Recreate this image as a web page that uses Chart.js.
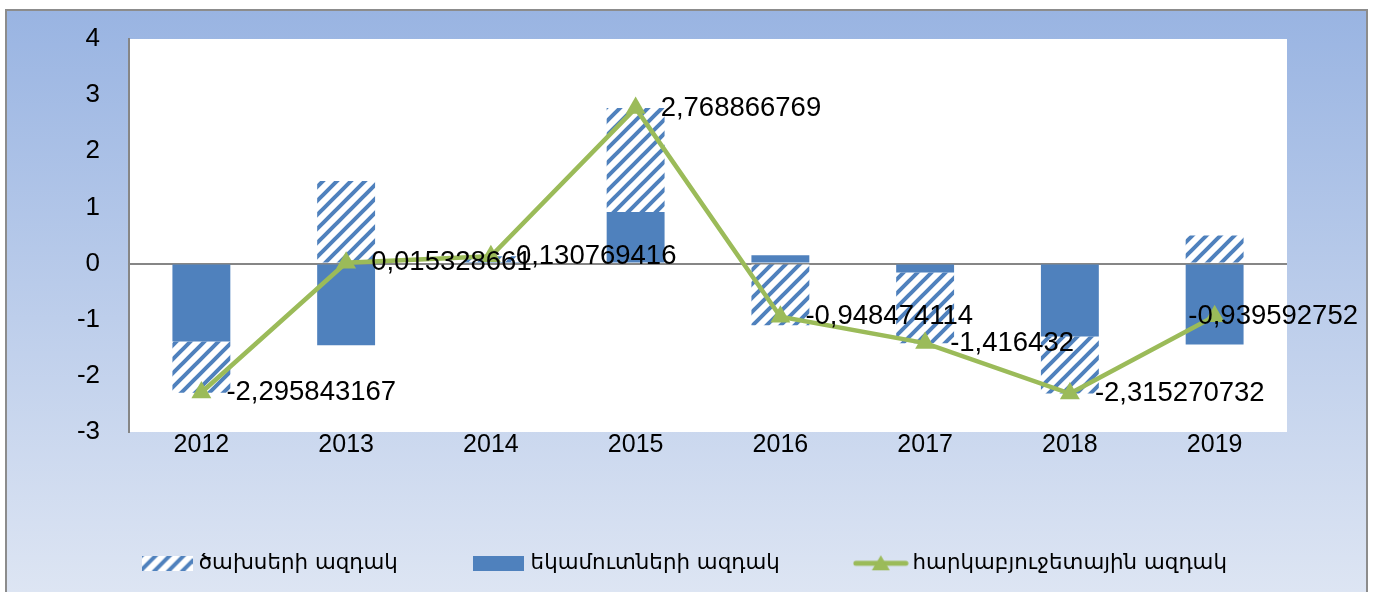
<!DOCTYPE html>
<html>
<head>
<meta charset="utf-8">
<script src="https://cdn.jsdelivr.net/npm/chart.js@4"></script>
<style>
html, body { margin: 0; padding: 0; background: #fff; }
</style>
</head>
<body>
<canvas id="fiscalChart" width="1376" height="592"></canvas>
<script>
const years = ['2012', '2013', '2014', '2015', '2016', '2017', '2018', '2019'];
const spendImpulse = [-0.91, 1.47, 0.10, 1.85, -1.10, -1.26, -1.015, 0.50];
const revenueImpulse = [-1.39, -1.455, 0.03, 0.92, 0.15, -0.16, -1.30, -1.44];
const fiscalImpulse = [-2.295843167, 0.015328661, 0.130769416, 2.768866769, -0.948474114, -1.416432, -2.315270732, -0.939592752];
const seriesNames = ['ծախսերի ազդակ', 'եկամուտների ազդակ', 'հարկաբյուջետային ազդակ'];
const yMin = -3, yMax = 4;

const blue = '#4f81bd';
const green = '#9bbb59';

// diagonal hatch like excel's "wide upward diagonal"
function makeHatch() {
    const s = 14;
    const c = document.createElement('canvas');
    c.width = s; c.height = s;
    const g = c.getContext('2d');
    g.fillStyle = '#fff';
    g.fillRect(0, 0, s, s);
    g.strokeStyle = blue;
    g.lineWidth = 4;
    g.beginPath();
    g.moveTo(-2, s + 2); g.lineTo(s + 2, -2);
    g.moveTo(-2, 2); g.lineTo(2, -2);
    g.moveTo(s - 2, s + 2); g.lineTo(s + 2, s - 2);
    g.stroke();
    return g.createPattern(c, 'repeat');
}
const hatch = makeHatch();

function legendIcon(kind) {
    const c = document.createElement('canvas');
    const g = c.getContext('2d');
    if (kind === 'line') {
        c.width = 56; c.height = 22;
        g.strokeStyle = green;
        g.lineWidth = 5;
        g.lineCap = 'round';
        g.beginPath(); g.moveTo(3, 11); g.lineTo(53, 11); g.stroke();
        g.fillStyle = green;
        g.beginPath(); g.moveTo(28, 3); g.lineTo(37, 18); g.lineTo(19, 18); g.closePath(); g.fill();
    } else {
        c.width = 51; c.height = 15;
        g.fillStyle = kind === 'hatch' ? makeHatch() : blue;
        g.fillRect(0, 0, 51, 15);
    }
    return c;
}
const legendIcons = [legendIcon('hatch'), legendIcon('solid'), legendIcon('line')];

const backdrop = {
    id: 'backdrop',
    beforeDraw(chart) {
        const ctx = chart.ctx;
        const a = chart.chartArea;
        ctx.save();
        const grad = ctx.createLinearGradient(0, 10, 0, 592);
        grad.addColorStop(0, '#99b4e2');
        grad.addColorStop(1, '#dde5f3');
        ctx.fillStyle = grad;
        ctx.fillRect(6, 10, 1361, 600);
        ctx.strokeStyle = '#8c8c8c';
        ctx.lineWidth = 2;
        ctx.strokeRect(6, 10, 1361, 620);
        ctx.fillStyle = '#fff';
        ctx.fillRect(a.left, a.top, a.right - a.left, a.bottom - a.top);
        ctx.restore();
    }
};

const pointLabels = {
    id: 'pointLabels',
    afterDatasetsDraw(chart) {
        const meta = chart.getDatasetMeta(2);
        const ctx = chart.ctx;
        ctx.save();
        ctx.font = '27.5px "Liberation Sans"';
        ctx.fillStyle = '#000';
        ctx.textBaseline = 'middle';
        ctx.textAlign = 'left';
        meta.data.forEach((pt, i) => {
            const txt = String(fiscalImpulse[i]).replace('.', ',');
            const w = ctx.measureText(txt).width;
            let x = pt.x + 25;
            if (x + w > chart.width - 18) x = chart.width - 18 - w;
            ctx.fillText(txt, x, pt.y);
        });
        ctx.restore();
    }
};

new Chart(document.getElementById('fiscalChart'), {
    data: {
        labels: years,
        datasets: [
            {
                type: 'bar', label: seriesNames[0], data: spendImpulse,
                backgroundColor: hatch, borderWidth: 0, stack: 'bars', order: 2,
                categoryPercentage: 1, barPercentage: 0.4
            },
            {
                type: 'bar', label: seriesNames[1], data: revenueImpulse,
                backgroundColor: blue, borderWidth: 0, stack: 'bars', order: 1,
                categoryPercentage: 1, barPercentage: 0.4
            },
            {
                type: 'line', label: seriesNames[2], data: fiscalImpulse,
                borderColor: green, borderWidth: 4.5, tension: 0, stack: 'line', order: 0,
                pointStyle: 'triangle', pointRadius: 11.5, pointHoverRadius: 11.5,
                pointBackgroundColor: green, pointBorderColor: green, pointBorderWidth: 0
            }
        ]
    },
    options: {
        responsive: false,
        animation: false,
        devicePixelRatio: 1,
        layout: { padding: { left: 37, right: 40, top: 39, bottom: 8 } },
        scales: {
            x: {
                stacked: true,
                grid: { display: false },
                border: { display: false },
                ticks: { color: '#000', padding: -7, font: { family: 'Liberation Sans', size: 25, lineHeight: 1 } },
                afterFit(scale) { scale.height = 40.6; }
            },
            y: {
                stacked: true,
                min: yMin, max: yMax,
                ticks: { stepSize: 1, color: '#000', padding: 29, font: { family: 'Liberation Sans', size: 26 } },
                grid: {
                    drawTicks: false,
                    lineWidth: 2,
                    color: c => c.tick && c.tick.value === 0 ? '#868686' : 'transparent'
                },
                border: { display: true, color: '#868686', width: 2 },
                afterFit(scale) {
                    scale.width = 92;
                    // tick padding would otherwise push the plot top down
                    scale.paddingTop = 0;
                    scale.paddingBottom = 0;
                }
            },
            // empty spacer on the right so the legend can be wider than the plot
            yRight: {
                position: 'right',
                min: yMin, max: yMax,
                grid: { display: false },
                border: { display: false },
                ticks: { display: false },
                afterFit(scale) { scale.width = 49; }
            }
        },
        plugins: {
            tooltip: { enabled: false },
            legend: {
                position: 'bottom',
                labels: {
                    usePointStyle: true,
                    pointStyleWidth: 42,
                    padding: 80,
                    color: '#000',
                    font: { family: 'DejaVu Sans', size: 21.4 },
                    generateLabels: chart => chart.data.datasets.map((ds, i) => ({
                        text: ds.label,
                        pointStyle: legendIcons[i],
                        datasetIndex: i,
                        fillStyle: 'transparent',
                        strokeStyle: 'transparent',
                        lineWidth: 0,
                        fontColor: '#000',
                        hidden: false
                    })),
                    sort: (a, b) => a.datasetIndex - b.datasetIndex
                }
            }
        }
    },
    plugins: [backdrop, pointLabels]
});
</script>
</body>
</html>
